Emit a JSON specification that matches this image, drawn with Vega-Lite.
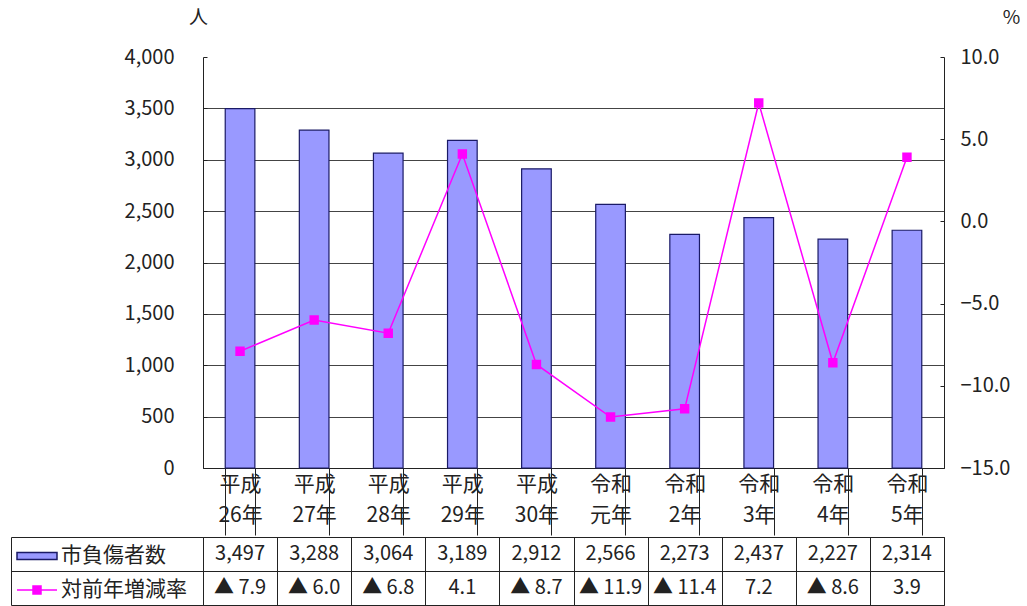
{
  "$schema": "https://vega.github.io/schema/vega-lite/v6.json",
  "background": "white",
  "padding": {"left": 10, "top": 8, "right": 0, "bottom": 0},
  "autosize": {"type": "pad"},
  "config": {
    "font": "Noto Sans CJK JP",
    "view": {"stroke": null},
    "axis": {"labelFont": "Noto Sans CJK JP", "titleFont": "Noto Sans CJK JP", "labelColor": "#222", "titleColor": "#222"},
    "legend": {"labelFont": "Noto Sans CJK JP"}
  },
  "data": {
    "values": [
      {"year": "平成26年", "count": 3497, "rate": -7.9, "rateLabel": "▲ 7.9"},
      {"year": "平成27年", "count": 3288, "rate": -6.0, "rateLabel": "▲ 6.0"},
      {"year": "平成28年", "count": 3064, "rate": -6.8, "rateLabel": "▲ 6.8"},
      {"year": "平成29年", "count": 3189, "rate": 4.1, "rateLabel": "4.1"},
      {"year": "平成30年", "count": 2912, "rate": -8.7, "rateLabel": "▲ 8.7"},
      {"year": "令和元年", "count": 2566, "rate": -11.9, "rateLabel": "▲ 11.9"},
      {"year": "令和2年", "count": 2273, "rate": -11.4, "rateLabel": "▲ 11.4"},
      {"year": "令和3年", "count": 2437, "rate": 7.2, "rateLabel": "7.2"},
      {"year": "令和4年", "count": 2227, "rate": -8.6, "rateLabel": "▲ 8.6"},
      {"year": "令和5年", "count": 2314, "rate": 3.9, "rateLabel": "3.9"}
    ]
  },
  "spacing": 0,
  "vconcat": [
    {
      "width": 741,
      "height": 411,
      "layer": [
        {
          "mark": {"type": "bar", "stroke": "#1a1a66", "strokeWidth": 1.2},
          "encoding": {
            "x": {
              "field": "year", "type": "nominal", "sort": null,
              "scale": {"paddingInner": 0.6, "paddingOuter": 0.3},
              "axis": {
                "title": null, "labelAngle": 0, "domainColor": "#222", "tickColor": "#222",
                "tickBand": "extent", "tickSize": 67, "labelPadding": -62,
                "labelBaseline": "top", "labelFontSize": 21, "labelLineHeight": 31,
                "labelExpr": "[substring(datum.label, 0, 2), substring(datum.label, 2)]"
              }
            },
            "y": {
              "field": "count", "type": "quantitative",
              "scale": {"domain": [0, 4000]},
              "axis": {
                "title": "人", "titleAngle": 0, "titleX": -5, "titleY": -40,
                "titleAlign": "center", "titleBaseline": "middle", "titleFontSize": 19, "titleFontWeight": "normal",
                "values": [0, 500, 1000, 1500, 2000, 2500, 3000, 3500, 4000],
                "format": ",d", "labelFontSize": 20, "labelPadding": 33,
                "domainColor": "#222", "tickColor": "#222", "tickSize": -4,
                "grid": true, "gridColor": "#444",
                "gridOpacity": {"condition": {"test": "datum.value >= 4000", "value": 0}, "value": 1}
              }
            },
            "fill": {
              "datum": "市負傷者数",
              "scale": {"range": ["#9999ff"]},
              "legend": {
                "title": null, "orient": "none", "legendX": -187, "legendY": 478,
                "padding": 0, "symbolType": "M-1,-0.18L1,-0.18L1,0.18L-1,0.18Z",
                "symbolSize": 1600, "symbolStrokeColor": "#1a1a66", "symbolStrokeWidth": 1.5,
                "labelFontSize": 21, "labelColor": "#222", "labelOffset": 3
              }
            }
          }
        },
        {
          "mark": {"type": "line", "strokeWidth": 1.5, "point": {"shape": "square", "filled": true, "size": 55, "fill": "#ff00ff"}},
          "encoding": {
            "x": {"field": "year", "type": "nominal", "sort": null},
            "y": {
              "field": "rate", "type": "quantitative",
              "scale": {"domain": [-15, 10]},
              "axis": {
                "orient": "right",
                "title": "%", "titleAngle": 0, "titleX": 67, "titleY": -40,
                "titleAlign": "center", "titleBaseline": "middle", "titleFontSize": 19, "titleFontWeight": "normal",
                "values": [-15, -10, -5, 0, 5, 10],
                "format": ".1f", "labelFontSize": 20, "labelPadding": 20,
                "domainColor": "#222", "tickColor": "#222", "tickSize": -4, "grid": false
              }
            },
            "stroke": {
              "datum": "対前年増減率",
              "scale": {"range": ["#ff00ff"]},
              "legend": {
                "title": null, "orient": "none", "legendX": -187, "legendY": 512,
                "padding": 0, "symbolType": "M-1,0L1,0M-0.2,-0.2L0.2,-0.2L0.2,0.2L-0.2,0.2Z",
                "symbolSize": 1600, "symbolFillColor": "#ff00ff", "symbolStrokeWidth": 1.5,
                "labelFontSize": 21, "labelColor": "#222", "labelOffset": 3
              }
            }
          }
        }
      ],
      "resolve": {"scale": {"y": "independent"}}
    },
    {
      "width": 741,
      "height": 68,
      "view": {"stroke": "#222"},
      "layer": [
        {
          "mark": {"type": "text", "fontSize": 20, "color": "#222"},
          "encoding": {
            "x": {
              "field": "year", "type": "nominal", "sort": null,
              "scale": {"type": "band", "paddingInner": 0, "paddingOuter": 0},
              "axis": {"orient": "top", "title": null, "labels": false, "ticks": false, "domain": false,
                       "grid": true, "tickBand": "extent", "gridColor": "#222", "gridOpacity": 1}
            },
            "y": {
              "datum": "市負傷者数", "type": "nominal",
              "scale": {"type": "band", "domain": ["市負傷者数", "対前年増減率"], "paddingInner": 0, "paddingOuter": 0},
              "axis": {"title": null, "orient": "left", "offset": 192, "domainColor": "#222",
                       "tickBand": "extent", "tickSize": -192, "tickColor": "#222",
                       "labels": false,
                       "grid": true, "gridColor": "#222", "gridOpacity": 1}
            },
            "text": {"field": "count", "type": "quantitative", "format": ","}
          }
        },
        {
          "mark": {"type": "text", "fontSize": 20, "color": "#222"},
          "encoding": {
            "x": {"field": "year", "type": "nominal", "sort": null},
            "y": {"datum": "対前年増減率", "type": "nominal"},
            "text": {"field": "rateLabel", "type": "nominal"}
          }
        }
      ]
    }
  ]
}
